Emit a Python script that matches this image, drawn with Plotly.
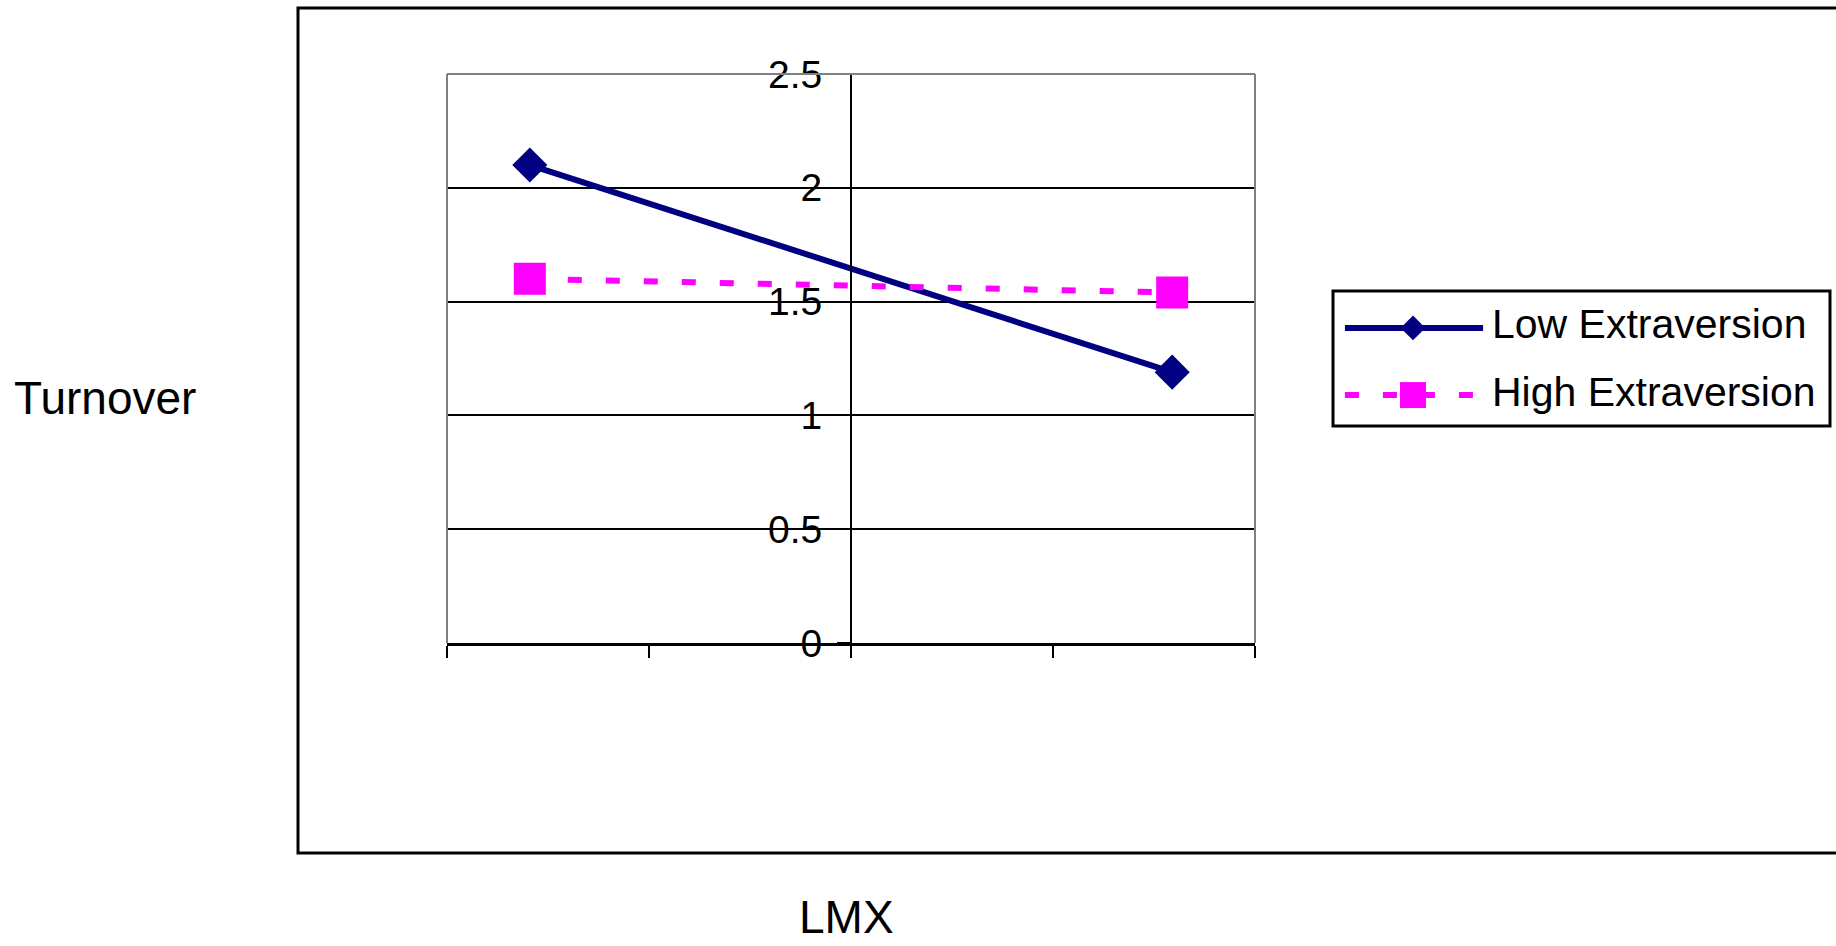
import plotly.graph_objects as go

# ---------------- data ----------------
lmx_levels = [-1.59, 1.59]
low_extraversion = [2.10, 1.19]
high_extraversion = [1.60, 1.54]
series_names = ["Low Extraversion", "High Extraversion"]
y_tick_values = [0, 0.5, 1, 1.5, 2, 2.5]
y_tick_labels = ["0", "0.5", "1", "1.5", "2", "2.5"]
x_tick_values = [-2, -1, 0, 1, 2]
y_title = "Turnover"
x_title = "LMX"

# ---------------- styles ----------------
W, H = 1836, 946
FONT = "Liberation Sans, Arial, sans-serif"
NAVY = "#000080"
PINK = "#FF00FF"
GRAY = "#808080"
DASH = "14px,24px"
LW = 6

def px_x(p):
    return p / W

def px_y(p):
    return 1 - p / H

plot_x = [px_x(447), px_x(1255)]
plot_y = [px_y(643), px_y(74)]
leg_x = [px_x(1333), px_x(1830)]
leg_y = [px_y(426), px_y(291)]

fig = go.Figure()

fig.add_trace(go.Scatter(
    x=lmx_levels, y=low_extraversion, name=series_names[0], mode="lines+markers",
    line=dict(color=NAVY, width=LW),
    marker=dict(symbol="diamond", size=27, color=NAVY),
    showlegend=False, cliponaxis=False))
fig.add_trace(go.Scatter(
    x=lmx_levels, y=high_extraversion, name=series_names[1], mode="lines+markers",
    line=dict(color=PINK, width=LW, dash=DASH),
    marker=dict(symbol="square", size=32, color=PINK),
    showlegend=False, cliponaxis=False))

# ---- custom legend drawn on its own hidden axes ----
row_y = [0.7265, 0.229]
text_y = [0.755, 0.25]
sample_x = [0.024, 0.302]
sample_mid = 0.161
fig.add_trace(go.Scatter(x=sample_x, y=[row_y[0]] * 2, mode="lines",
                         line=dict(color=NAVY, width=LW), xaxis="x2", yaxis="y2",
                         showlegend=False, hoverinfo="skip"))
fig.add_trace(go.Scatter(x=[sample_mid], y=[row_y[0]], mode="markers",
                         marker=dict(symbol="diamond", size=19, color=NAVY),
                         xaxis="x2", yaxis="y2", showlegend=False, hoverinfo="skip"))
fig.add_trace(go.Scatter(x=sample_x, y=[row_y[1]] * 2, mode="lines",
                         line=dict(color=PINK, width=LW, dash=DASH), xaxis="x2", yaxis="y2",
                         showlegend=False, hoverinfo="skip"))
fig.add_trace(go.Scatter(x=[sample_mid], y=[row_y[1]], mode="markers",
                         marker=dict(symbol="square", size=26, color=PINK),
                         xaxis="x2", yaxis="y2", showlegend=False, hoverinfo="skip"))

annotations = []
for name, ty in zip(series_names, text_y):
    annotations.append(dict(x=0.315, y=ty, xref="x2", yref="y2", text=name,
                            showarrow=False, xanchor="left", yanchor="middle",
                            font=dict(family=FONT, size=41, color="black")))
annotations.append(dict(x=px_x(12), y=px_y(397.5), xref="paper", yref="paper",
                        text=y_title, showarrow=False, xanchor="left", yanchor="middle",
                        font=dict(family=FONT, size=46, color="black")))
annotations.append(dict(x=px_x(846), y=px_y(917), xref="paper", yref="paper",
                        text=x_title, showarrow=False, xanchor="center", yanchor="middle",
                        font=dict(family=FONT, size=46, color="black")))

shapes = [
    # outer chart border
    dict(type="rect", xref="paper", yref="paper", x0=px_x(298), x1=1.05,
         y0=px_y(853), y1=px_y(8), line=dict(color="black", width=3), layer="below"),
    # plot area border (gray) left, top, right
    dict(type="line", xref="x domain", yref="y domain", x0=0, x1=0, y0=0, y1=1,
         line=dict(color=GRAY, width=2), layer="above"),
    dict(type="line", xref="x domain", yref="y domain", x0=0, x1=1, y0=1, y1=1,
         line=dict(color=GRAY, width=2), layer="above"),
    dict(type="line", xref="x domain", yref="y domain", x0=1, x1=1, y0=0, y1=1,
         line=dict(color=GRAY, width=2), layer="above"),
    # legend box
    dict(type="rect", xref="paper", yref="paper", x0=leg_x[0], x1=leg_x[1],
         y0=leg_y[0], y1=leg_y[1], line=dict(color="black", width=3), layer="below"),
]

fig.update_layout(
    template="none",
    width=W, height=H,
    autosize=False,
    margin=dict(l=0, r=0, t=0, b=0, pad=0, autoexpand=False),
    paper_bgcolor="white", plot_bgcolor="white",
    showlegend=False,
    font=dict(family=FONT, color="black"),
    xaxis=dict(domain=plot_x, range=[-2, 2], anchor="y", automargin=False,
               tickvals=x_tick_values, showticklabels=False,
               ticks="outside", ticklen=12, tickwidth=2, tickcolor="black",
               showline=True, linecolor="black", linewidth=3,
               showgrid=False, zeroline=False, fixedrange=True),
    yaxis=dict(domain=plot_y, range=[0, 2.5], anchor="free", automargin=False,
               position=(plot_x[0] + plot_x[1]) / 2,
               tickvals=y_tick_values, ticktext=y_tick_labels,
               ticks="outside", ticklen=13, tickwidth=2, tickcolor="black",
               ticklabelstandoff=7,
               tickfont=dict(family=FONT, size=39, color="black"),
               showline=True, linecolor="black", linewidth=2,
               showgrid=True, gridcolor="black", gridwidth=2,
               zeroline=False, fixedrange=True),
    xaxis2=dict(domain=leg_x, range=[0, 1], anchor="y2", visible=False,
                automargin=False, fixedrange=True),
    yaxis2=dict(domain=leg_y, range=[0, 1], anchor="x2", visible=False,
                automargin=False, fixedrange=True),
    annotations=annotations,
    shapes=shapes,
)

fig.write_html("out.html")
